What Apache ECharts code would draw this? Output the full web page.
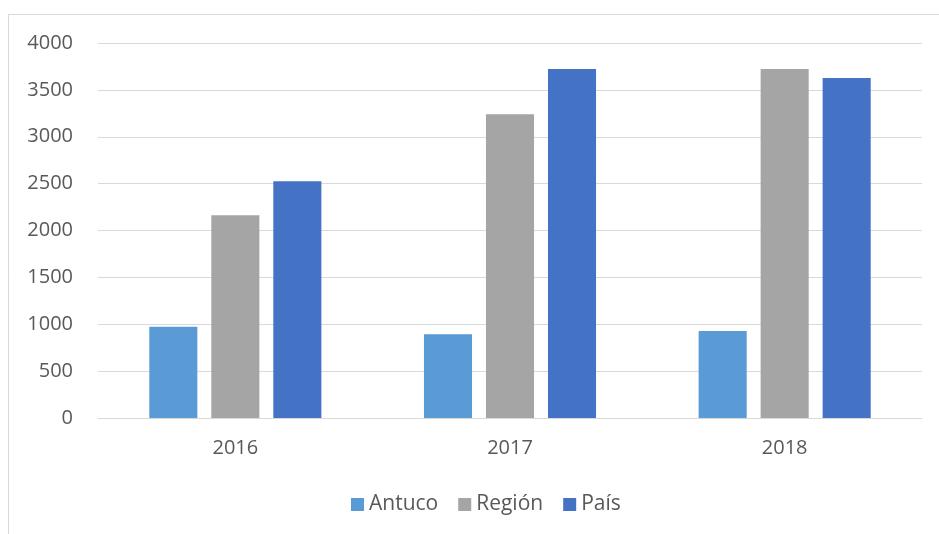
<!DOCTYPE html>
<html><head><meta charset="utf-8">
<script src="https://cdn.jsdelivr.net/npm/echarts@6/dist/echarts.min.js"></script>
<style>html,body{margin:0;padding:0;background:#fff}#c{width:939px;height:534px}</style>
</head><body><div id="c"></div>
<script>
const categories = ['2016', '2017', '2018'];
const antuco = [974, 893, 928];
const region = [2162, 3239, 3723];
const pais = [2525, 3723, 3627];
const seriesNames = ['Antuco', 'Región', 'País'];
const colors = ['#5B9BD5', '#A5A5A5', '#4472C4'];

const font = '"Open Sans", "Noto Sans", sans-serif';
const chart = echarts.init(document.getElementById('c'), null, {renderer: 'canvas'});
const data = [antuco, region, pais];
chart.setOption({
  animation: false,
  textStyle: {fontFamily: font},
  graphic: [{type: 'rect', shape: {x: 8.5, y: 14.5, width: 940, height: 540}, style: {fill: 'none', stroke: '#d9d9d9', lineWidth: 1}}],
  grid: {left: 98, right: 17, top: 43, bottom: 116, containLabel: false},
  legend: {
    data: seriesNames, left: 346, top: 489, itemWidth: 13, itemHeight: 13, itemGap: 20,
    icon: 'rect',
    textStyle: {fontSize: 21, color: '#595959', fontFamily: font}
  },
  xAxis: {
    type: 'category', data: categories,
    axisLine: {lineStyle: {color: '#d9d9d9', width: 1}},
    axisTick: {show: false},
    axisLabel: {fontSize: 20, color: '#595959', margin: 20, fontFamily: font}
  },
  yAxis: {
    type: 'value', min: 0, max: 4000, interval: 500,
    axisLine: {show: false}, axisTick: {show: false},
    splitLine: {lineStyle: {color: '#d9d9d9', width: 1}},
    axisLabel: {fontSize: 20, color: '#595959', margin: 25, fontFamily: font, formatter: v => String(v)}
  },
  series: seriesNames.map((n, i) => ({
    name: n, type: 'bar', data: data[i], barWidth: '17.5%', barGap: '29%',
    itemStyle: {color: colors[i]}
  }))
});
</script></body></html>
